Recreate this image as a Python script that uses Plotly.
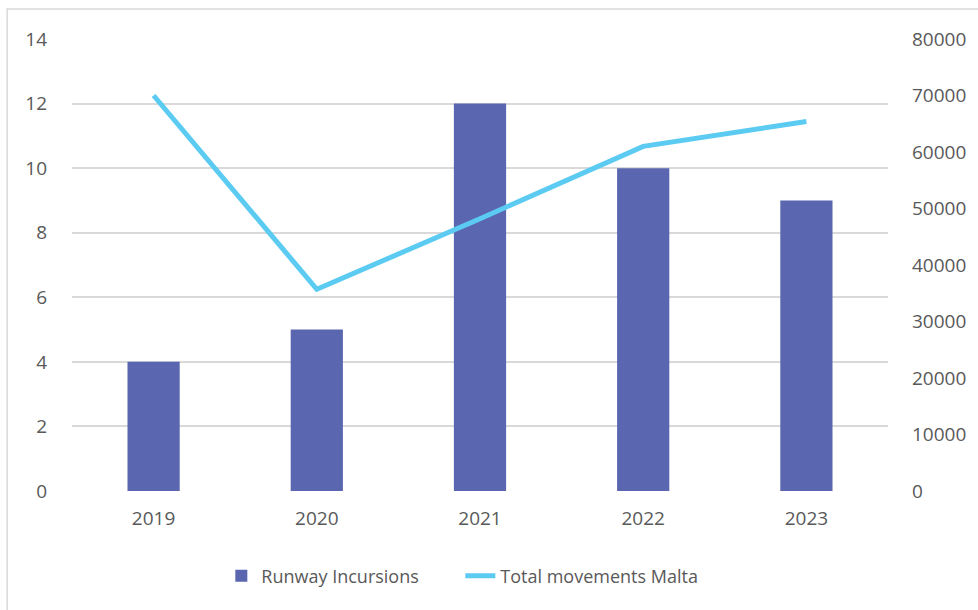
import plotly.graph_objects as go

years = ["2019", "2020", "2021", "2022", "2023"]
runway_incursions = [4, 5, 12, 10, 9]
total_movements = [70000, 35700, 48200, 61000, 65400]

bar_color = "#5A67B0"
line_color = "#5BCBF2"
text_color = "#595959"
font_family = "Open Sans, Noto Sans, sans-serif"

fig = go.Figure()
fig.add_trace(go.Bar(
    x=years, y=runway_incursions, name="Runway Incursions",
    marker=dict(color=bar_color, line=dict(width=0)), width=0.32,
))
fig.add_trace(go.Scatter(
    x=years, y=total_movements, name="Total movements Malta",
    mode="lines", line=dict(color=line_color, width=5), yaxis="y2",
))

fig.update_layout(
    width=978, height=610,
    margin=dict(l=72, r=88, t=39, b=119),
    plot_bgcolor="white", paper_bgcolor="white",
    font=dict(family=font_family, size=19, color=text_color),
    showlegend=True,
    legend=dict(
        orientation="h", x=0.183, xanchor="left", y=-0.188, yanchor="middle",
        font=dict(size=18, color=text_color),
        entrywidth=194, entrywidthmode="pixels",
        traceorder="normal", tracegroupgap=0,
    ),
    xaxis=dict(showgrid=False, showline=False, ticks="", ticklabelstandoff=14,
               tickfont=dict(size=19, color=text_color)),
    yaxis=dict(
        range=[0, 14], dtick=2, showgrid=True, gridcolor="#D9D9D9", gridwidth=1.5,
        zeroline=False, showline=False, ticks="", ticklabelstandoff=24,
        tickfont=dict(size=19, color=text_color),
    ),
    yaxis2=dict(
        range=[0, 80000], dtick=10000, tickformat="d", overlaying="y", side="right",
        showgrid=False, zeroline=False, showline=False, ticks="",
        ticklabelstandoff=23, tickfont=dict(size=19, color=text_color),
    ),
    shapes=[dict(
        type="rect", xref="paper", yref="paper",
        x0=-65 / 818, x1=1.2, y0=-0.5, y1=1 + 30 / 452,
        line=dict(color="#D9D9D9", width=1.5), fillcolor="rgba(0,0,0,0)", layer="below",
    )],
)

fig.write_html("out.html")
